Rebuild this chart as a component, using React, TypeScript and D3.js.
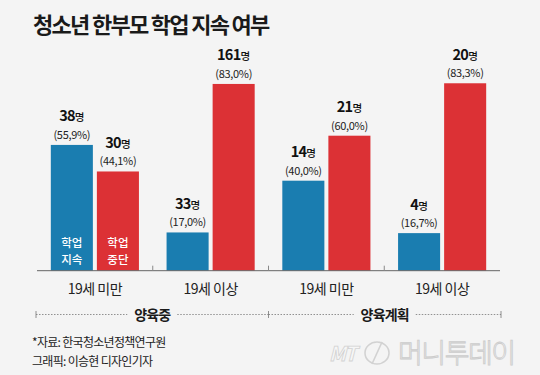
import React from "react";
import * as d3 from "d3";

const categories = ["19세 미만", "19세 이상", "19세 미만", "19세 이상"];
const parentGroups = ["양육중", "양육계획"];
const continueCounts = [38, 33, 14, 4];
const continuePct = [55.9, 17.0, 40.0, 16.7];
const stopCounts = [30, 161, 21, 20];
const stopPct = [44.1, 83.0, 60.0, 83.3];
const seriesKeys = ["지속", "중단"];
const seriesLabels = [["학업", "지속"], ["학업", "중단"]];

const W = 540;
const H = 375;
const BLUE = "#1a7db0";
const RED = "#dc3135";
const BG = "#f4f4f4";
const FONT = "'Noto Sans CJK KR', 'Noto Sans', sans-serif";

export default function App() {
  const idx = categories.map((_, i) => String(i));
  const x = d3.scaleBand().domain(idx).range([37, 500]).paddingInner(0).paddingOuter(0);
  const xs = d3
    .scaleBand()
    .domain(seriesKeys)
    .range([0, x.bandwidth()])
    .paddingInner(0.087)
    .paddingOuter(0.3);
  const y = d3.scaleLinear().domain([0, 100]).range([270.7, 45.7]);
  const base = y(0);
  const fmtPct = (v: number) => "(" + d3.format(".1f")(v).replace(".", ",") + "%)";

  const series = [
    { key: seriesKeys[0], counts: continueCounts, pct: continuePct, color: BLUE },
    { key: seriesKeys[1], counts: stopCounts, pct: stopPct, color: RED },
  ];

  const parentX = d3.scaleBand().domain(parentGroups).range([36, 501]);
  const dotY = 314.5;

  return (
    <svg
      width={W}
      height={H}
      style={{ position: "fixed", left: 0, top: 0, fontFamily: FONT }}
    >
      <rect x={0} y={0} width={W} height={H} fill={BG} />
      <text x={33} y={33} fontSize={22} fontWeight={700} fill="#1a1a1a" letterSpacing={-1.7}>
        청소년 한부모 학업 지속 여부
      </text>

      {series.map((s, si) =>
        idx.map((id, i) => {
          const bx = (x(id) as number) + (xs(s.key) as number);
          const top = y(s.pct[i]);
          const cx = bx + xs.bandwidth() / 2;
          return (
            <g key={s.key + i}>
              <rect x={bx} y={top} width={xs.bandwidth()} height={base - top} fill={s.color} />
              <text x={cx} y={top - 23.5} textAnchor="middle" fill="#111">
                <tspan fontSize={14.5} fontWeight={700} letterSpacing={-0.7}>
                  {s.counts[i]}
                </tspan>
                <tspan fontSize={10.5} fontWeight={500}>명</tspan>
              </text>
              <text x={cx} y={top - 6} textAnchor="middle" fontSize={11} fill="#222" letterSpacing={-0.3}>
                {fmtPct(s.pct[i])}
              </text>
              {i === 0 &&
                seriesLabels[si].map((t, li) => (
                  <text
                    key={li}
                    x={cx}
                    y={247 + li * 16.5}
                    textAnchor="middle"
                    fontSize={11.5}
                    fontWeight={500}
                    fill="#ffffff"
                  >
                    {t}
                  </text>
                ))}
            </g>
          );
        })
      )}

      {/* axis */}
      <line x1={37} x2={500} y1={base} y2={base} stroke="#666" strokeWidth={1} />
      {idx.slice(1).map((id) => (
        <line
          key={"t" + id}
          x1={x(id) as number}
          x2={x(id) as number}
          y1={base - 5}
          y2={base}
          stroke="#888"
          strokeWidth={1}
        />
      ))}
      {idx.map((id, i) => (
        <text
          key={"c" + id}
          x={(x(id) as number) + x.bandwidth() / 2}
          y={294}
          textAnchor="middle"
          fontSize={14}
          fill="#222"
          letterSpacing={-0.5}
        >
          {categories[i]}
        </text>
      ))}

      {/* parent groups */}
      {parentGroups.map((p, pi) => {
        const x0 = parentX(p) as number;
        const x1 = x0 + parentX.bandwidth();
        const cx = (x0 + x1) / 2;
        const half = pi === 0 ? 25 : 31;
        return (
          <g key={p}>
            <line x1={x0} x2={cx - half} y1={dotY} y2={dotY} stroke="#777" strokeWidth={0.8} strokeDasharray="1.5,1.5" />
            <line x1={cx + half} x2={x1} y1={dotY} y2={dotY} stroke="#777" strokeWidth={0.8} strokeDasharray="1.5,1.5" />
            <text x={cx} y={320} textAnchor="middle" fontSize={14} fontWeight={700} fill="#1a1a1a" letterSpacing={-0.8}>
              {p}
            </text>
          </g>
        );
      })}
      {[36, (parentX(parentGroups[1]) as number), 501].map((tx, i) => (
        <line key={"pt" + i} x1={tx} x2={tx} y1={dotY - 3.5} y2={dotY + 3.5} stroke="#777" strokeWidth={0.8} />
      ))}

      {/* footer */}
      <text x={32} y={347} fontSize={12} fill="#222" letterSpacing={-0.7}>
        *자료: 한국청소년정책연구원
      </text>
      <text x={32} y={366} fontSize={12} fill="#222" letterSpacing={-0.7}>
        그래픽: 이승현 디자인기자
      </text>

      {/* watermark */}
      <g opacity={0.9}>
        <text x={329} y={361} fontSize={20} fontStyle="italic" fontWeight={700} fill="#f7f7f7" stroke="#cfcfcf" strokeWidth={0.8} letterSpacing={-1.5}>
          MT
        </text>
        <ellipse cx={377} cy={353} rx={12} ry={11} fill="none" stroke="#cfcfcf" strokeWidth={1.6} />
        <line x1={372} y1={364} x2={382} y2={342} stroke="#cfcfcf" strokeWidth={1.6} />
        <text x={398} y={363} fontSize={27} fontWeight={300} fill="#f7f7f7" stroke="#c8c8c8" strokeWidth={0.9} letterSpacing={-1.5}>
          머니투데이
        </text>
      </g>
    </svg>
  );
}
